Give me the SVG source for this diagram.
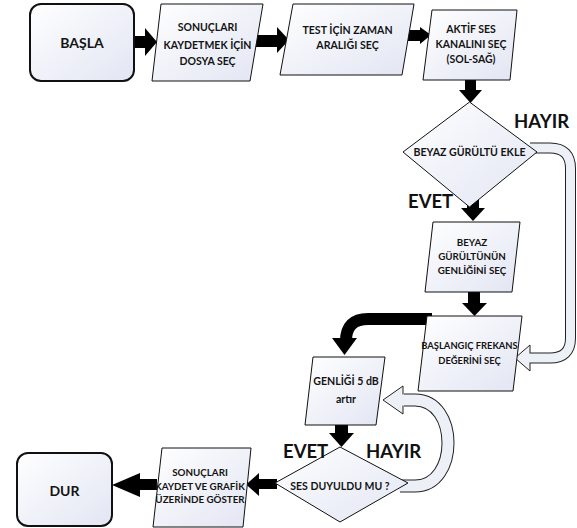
<svg xmlns="http://www.w3.org/2000/svg" width="577" height="528" viewBox="0 0 577 528">
<defs>
<linearGradient id="g" x1="0" y1="0" x2="1" y2="1">
<stop offset="0" stop-color="#ffffff"/>
<stop offset="1" stop-color="#e2e5f3"/>
</linearGradient>
<style>
.n{fill:url(#g);stroke:#111;stroke-width:1}
.r{fill:url(#g);stroke:#111;stroke-width:2}
.t{font-family:Lato,"Liberation Sans",sans-serif;font-weight:bold;fill:#141414;text-anchor:middle}
.lbl{font-family:Lato,"Liberation Sans",sans-serif;font-weight:bold;fill:#111;font-size:18.5px}
.blk{fill:#000}
.sh{fill:none;stroke:#000;stroke-width:12}
.hi{fill:none;stroke:#eef0f8}
.hh{fill:#eef0f8;stroke:#222;stroke-width:1}
</style>
</defs>
<rect width="577" height="528" fill="#fff"/>
<g id="connectors">
<rect class="blk" x="133" y="36" width="13" height="12"/>
<polygon class="blk" points="145,28 157,42 145,56"/>
<rect class="blk" x="255" y="35" width="23" height="12"/>
<polygon class="blk" points="277,27 289,40 277,53"/>
<rect class="blk" x="405" y="30" width="16" height="11"/>
<polygon class="blk" points="420,27 431,35 420,44"/>
<rect class="blk" x="465" y="79" width="11" height="12"/>
<polygon class="blk" points="459,90 482,90 470.5,103"/>
<rect class="blk" x="467" y="196" width="12" height="13"/>
<polygon class="blk" points="461,208 485,208 473,221"/>
<rect class="blk" x="468" y="291" width="12" height="13"/>
<polygon class="blk" points="462,303 487,303 474.5,316"/>
<path class="sh" d="M432 319 H368 Q346 319 346 341 V340"/>
<polygon class="blk" points="332,338 357,338 344.5,355"/>
<rect class="blk" x="335" y="424" width="13" height="10"/>
<polygon class="blk" points="329,433 354,433 341.5,447"/>
<rect class="blk" x="257" y="479" width="20" height="10"/>
<polygon class="blk" points="259,473 259,496 246,484.5"/>
<rect class="blk" x="139" y="479" width="18" height="11"/>
<polygon class="blk" points="140,473 140,497 112,485"/>
<path class="hi" style="stroke:#222;stroke-width:11" d="M530 148 H550 Q570.5 148 570.5 168.5 V338 Q570.5 358 550 358 H529"/>
<polygon class="hh" points="530,345 515,358 530,371"/>
<path class="hi" style="stroke-width:9" d="M529 148 H550 Q570.5 148 570.5 168.5 V338 Q570.5 358 550 358 H528"/>
<path class="hi" style="stroke:#222;stroke-width:13" d="M400 486 H415 C459 486 459 400 415 400 H404"/>
<polygon class="hh" points="403,386 383,400 403,414"/>
<path class="hi" style="stroke-width:11" d="M399 486 H415 C459 486 459 400 415 400 H401"/>
</g>
<g id="basla">
<rect class="r" x="30" y="4" width="104" height="77" rx="11"/>
<text class="t" x="82" y="48" font-size="14">BAŞLA</text>
</g>
<g id="dosya">
<polygon class="n" points="161,4 263,4 250,81 152,81"/>
<text class="t" font-size="10.5"><tspan x="207.5" y="31">SONUÇLARI</tspan><tspan x="207.5" y="48.5">KAYDETMEK İÇİN</tspan><tspan x="207.5" y="65">DOSYA SEÇ</tspan></text>
</g>
<g id="zaman">
<polygon class="n" points="293,4 414,4 402,75 280,75"/>
<text class="t" font-size="10.6"><tspan x="347.5" y="34">TEST İÇİN ZAMAN</tspan><tspan x="347.5" y="48.5">ARALIĞI SEÇ</tspan></text>
</g>
<g id="kanal">
<polygon class="n" points="432,10 517,10 510,80 423,80"/>
<text class="t" font-size="10.5"><tspan x="471" y="33">AKTİF SES</tspan><tspan x="471" y="48">KANALINI SEÇ</tspan><tspan x="471" y="63">(SOL-SAĞ)</tspan></text>
</g>
<g id="beyaz-ekle">
<polygon class="n" points="469.5,102 537,152 469.5,207 403,152"/>
<text class="t" x="469.5" y="156" font-size="10.6">BEYAZ GÜRÜLTÜ EKLE</text>
</g>
<g id="beyaz-genlik">
<polygon class="n" points="433,222 520,222 512,292 425,292"/>
<text class="t" font-size="9.8"><tspan x="472" y="246">BEYAZ</tspan><tspan x="472" y="260">GÜRÜLTÜNÜN</tspan><tspan x="472" y="274">GENLİĞİNİ SEÇ</tspan></text>
</g>
<g id="frekans">
<polygon class="n" points="427,316 522,316 513,391 418,391"/>
<text class="t" font-size="9.4"><tspan x="469.5" y="349">BAŞLANGIÇ FREKANS</tspan><tspan x="469.5" y="364">DEĞERİNİ SEÇ</tspan></text>
</g>
<g id="genlik-artir">
<polygon class="n" points="313,357 385,357 376,425 305,425"/>
<text class="t" font-size="10.6"><tspan x="346" y="385">GENLİĞİ 5 dB</tspan><tspan x="346" y="403">artır</tspan></text>
</g>
<g id="duyuldu">
<polygon class="n" points="340,447 408,483 340,522 275,483"/>
<text class="t" x="340" y="490" font-size="10.5">SES DUYULDU MU ?</text>
</g>
<g id="sonuclar">
<polygon class="n" points="162,448 251,448 243,527 153,527"/>
<text class="t" font-size="9.8"><tspan x="200" y="476">SONUÇLARI</tspan><tspan x="200" y="490">KAYDET VE GRAFİK</tspan><tspan x="200" y="503">ÜZERİNDE GÖSTER</tspan></text>
</g>
<g id="dur">
<rect class="r" x="17" y="453" width="95" height="73" rx="11"/>
<text class="t" x="64.5" y="496" font-size="14">DUR</text>
</g>
<g id="labels">
<text class="lbl" x="514" y="128">HAYIR</text>
<text class="lbl" x="408" y="208">EVET</text>
<text class="lbl" x="366" y="458">HAYIR</text>
<text class="lbl" x="283" y="458">EVET</text>
</g>
</svg>
